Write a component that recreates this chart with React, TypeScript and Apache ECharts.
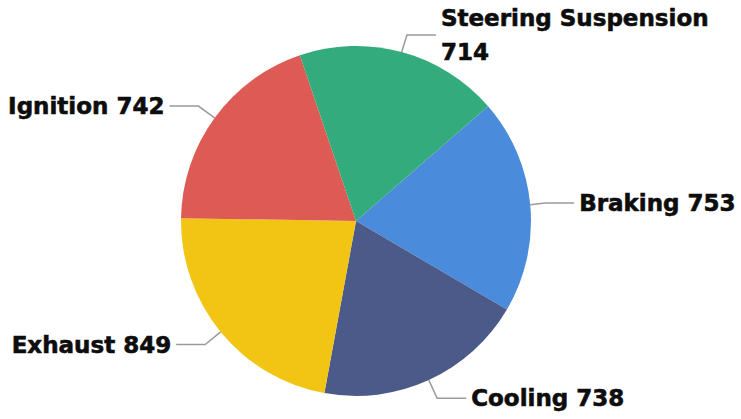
import React, { useEffect, useRef } from "react";
import * as echarts from "echarts";

const categories = ["Braking", "Cooling", "Exhaust", "Ignition", "Steering Suspension"];
const values = [753, 738, 849, 742, 714];
const colors = ["#4a8bdc", "#4b5a88", "#f2c515", "#dd5a55", "#33ab7c"];

export default function App() {
  const ref = useRef<HTMLDivElement>(null);
  useEffect(() => {
    if (!ref.current) return;
    const chart = echarts.init(ref.current, undefined, { renderer: "svg" });
    chart.setOption({
      animation: false,
      backgroundColor: "#ffffff",
      color: colors,
      series: [
        {
          type: "pie",
          center: [356, 221],
          radius: 175,
          startAngle: 41,
          clockwise: true,
          avoidLabelOverlap: true,
          itemStyle: { borderWidth: 0 },
          label: {
            show: true,
            formatter: "{b} {c}",
            fontFamily: "DejaVu Sans",
            fontWeight: "bold",
            fontSize: 23,
            lineHeight: 34,
            color: "#0d0d0d",
            textBorderColor: "#0d0d0d",
            textBorderWidth: 0.6,
            width: 285,
            overflow: "break",
          },
          labelLine: {
            show: true,
            length: 20,
            length2: 29,
            lineStyle: { color: "#9a9a9a", width: 1.5 },
          },
          data: categories.map((name, i) => ({ name, value: values[i] })),
        },
      ],
    });
    return () => chart.dispose();
  }, []);
  return (
    <div
      ref={ref}
      style={{ position: "absolute", left: 0, top: 0, width: 741, height: 419 }}
    />
  );
}
